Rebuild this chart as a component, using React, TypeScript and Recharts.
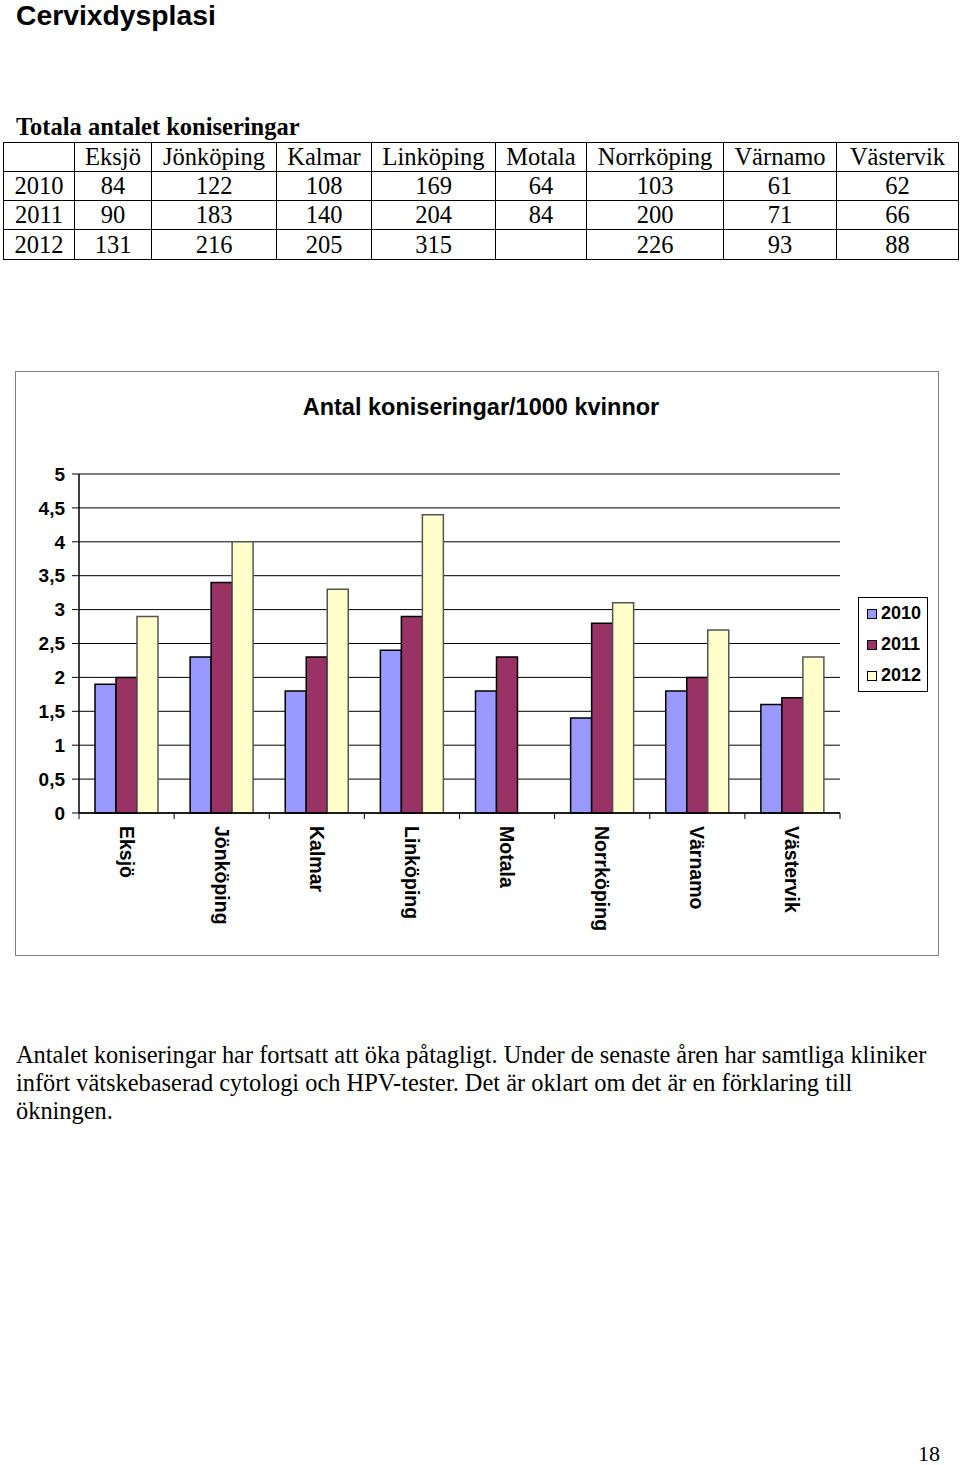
import React from 'react';
import { BarChart, Bar, XAxis, YAxis, CartesianGrid, Legend, ReferenceLine } from 'recharts';

// ---- Chart data (antal koniseringar / 1000 kvinnor) ----
const clinics = ['Eksjö', 'Jönköping', 'Kalmar', 'Linköping', 'Motala', 'Norrköping', 'Värnamo', 'Västervik'];
const rate2010 = [1.9, 2.3, 1.8, 2.4, 1.8, 1.4, 1.8, 1.6];
const rate2011 = [2.0, 3.4, 2.3, 2.9, 2.3, 2.8, 2.0, 1.7];
const rate2012: (number | null)[] = [2.9, 4.0, 3.3, 4.4, null, 3.1, 2.7, 2.3];
const yTicks = [0, 0.5, 1, 1.5, 2, 2.5, 3, 3.5, 4, 4.5, 5];

// ---- Table data (totala antalet koniseringar) ----
const tableYears = ['2010', '2011', '2012'];
const count2010: (number | null)[] = [84, 122, 108, 169, 64, 103, 61, 62];
const count2011: (number | null)[] = [90, 183, 140, 204, 84, 200, 71, 66];
const count2012: (number | null)[] = [131, 216, 205, 315, null, 226, 93, 88];
const tableRows = [count2010, count2011, count2012];

const series = [
  { key: 'y2010', name: '2010', fill: '#9999FF', stroke: '#000000' },
  { key: 'y2011', name: '2011', fill: '#993366', stroke: '#000000' },
  { key: 'y2012', name: '2012', fill: '#FFFFCC', stroke: '#555555' },
];

const chartData = clinics.map((c, i) => ({
  clinic: c,
  y2010: rate2010[i],
  y2011: rate2011[i],
  y2012: rate2012[i],
}));

const SANS = '"Liberation Sans", Arial, sans-serif';
const SERIF = '"Liberation Serif", "Times New Roman", serif';

const colWidths = [71, 77, 125, 95, 124, 91, 137, 113, 122];

const ClinicTick = (props: any) => {
  const { x, y, payload, index, visibleTicksCount } = props;
  const half = typeof payload?.offset === 'number' ? payload.offset : 0;
  const isLast = index === (visibleTicksCount ?? 0) - 1;
  return (
    <g>
      {half > 0 && <line x1={x - half} x2={x - half} y1={y} y2={y + 6} stroke="#000" strokeWidth={1} />}
      {half > 0 && isLast && <line x1={x + half} x2={x + half} y1={y} y2={y + 6} stroke="#000" strokeWidth={1} />}
      <text
        x={0}
        y={0}
        transform={`translate(${x},${y + 13}) rotate(90)`}
        textAnchor="start"
        dominantBaseline="central"
        fontFamily={SANS}
        fontWeight="bold"
        fontSize={19.5}
        fill="#000"
      >
        {payload.value}
      </text>
    </g>
  );
};

const LegendBox = () => (
  <div
    style={{
      width: 68,
      height: 93,
      border: '1px solid #000',
      background: '#fff',
      fontFamily: SANS,
      fontWeight: 'bold',
      fontSize: 18,
      color: '#000',
    }}
  >
    {series.map((s) => (
      <div key={s.key} style={{ height: 31, display: 'flex', alignItems: 'center' }}>
        <span
          style={{
            display: 'inline-block',
            width: 8,
            height: 8,
            marginLeft: 8,
            marginRight: 4,
            background: s.fill,
            border: '1px solid #000',
          }}
        />
        <span>{s.name}</span>
      </div>
    ))}
  </div>
);

const cellStyle: React.CSSProperties = {
  border: '1.5px solid #000',
  padding: 0,
  textAlign: 'center',
  lineHeight: '28px',
  whiteSpace: 'nowrap',
};

export default function App() {
  return (
    <div
      style={{
        position: 'absolute',
        left: 0,
        top: 0,
        width: 960,
        height: 1465,
        background: '#fff',
        overflow: 'hidden',
      }}
    >
      <div
        style={{
          position: 'absolute',
          left: 16,
          top: 1,
          fontFamily: SANS,
          fontWeight: 'bold',
          fontSize: 28.3,
          lineHeight: '28px',
          whiteSpace: 'nowrap',
        }}
      >
        Cervixdysplasi
      </div>

      <div
        style={{
          position: 'absolute',
          left: 16,
          top: 115,
          fontFamily: SERIF,
          fontWeight: 'bold',
          fontSize: 24.5,
          lineHeight: '24px',
          whiteSpace: 'nowrap',
        }}
      >
        Totala antalet koniseringar
      </div>

      <table
        style={{
          position: 'absolute',
          left: 3,
          top: 142,
          borderCollapse: 'collapse',
          tableLayout: 'fixed',
          width: 955,
          fontFamily: SERIF,
          fontSize: 24.5,
        }}
      >
        <colgroup>
          {colWidths.map((w, i) => (
            <col key={i} style={{ width: w }} />
          ))}
        </colgroup>
        <tbody>
          <tr style={{ height: 29 }}>
            <td style={cellStyle} />
            {clinics.map((c) => (
              <td key={c} style={cellStyle}>
                {c}
              </td>
            ))}
          </tr>
          {tableYears.map((yr, r) => (
            <tr key={yr} style={{ height: r === 2 ? 30 : 29 }}>
              <td style={cellStyle}>{yr}</td>
              {tableRows[r].map((v, i) => (
                <td key={i} style={cellStyle}>
                  {v === null ? '' : v}
                </td>
              ))}
            </tr>
          ))}
        </tbody>
      </table>

      <div
        style={{
          position: 'absolute',
          left: 15,
          top: 371,
          width: 924,
          height: 585,
          border: '1px solid #808080',
          boxSizing: 'border-box',
          background: '#fff',
        }}
      >
        <div
          style={{
            position: 'absolute',
            left: 0,
            top: 21,
            width: 930,
            textAlign: 'center',
            fontFamily: SANS,
            fontWeight: 'bold',
            fontSize: 23.5,
            lineHeight: '28px',
            color: '#000',
          }}
        >
          Antal koniseringar/1000 kvinnor
        </div>
        <div style={{ position: 'absolute', left: -1, top: -1 }}>
          <BarChart
            width={924}
            height={585}
            data={chartData}
            margin={{ top: 103, right: 99, bottom: 13, left: 0 }}
            barGap={0}
          >
            <CartesianGrid vertical={false} stroke="#000" strokeWidth={1} yAxisId="left" />
            <XAxis
              xAxisId="cat"
              dataKey="clinic"
              height={130}
              interval={0}
              tickSize={0}
              tickMargin={0}
              axisLine={{ stroke: '#000', strokeWidth: 1.5 }}
              tickLine={false}
              tick={<ClinicTick />}
            />
            <YAxis
              yAxisId="left"
              domain={[0, 5]}
              ticks={yTicks}
              interval={0}
              width={64}
              tickSize={7}
              tickMargin={7}
              axisLine={{ stroke: '#000', strokeWidth: 1.5 }}
              tickLine={{ stroke: '#000' }}
              tick={{ fontFamily: SANS, fontWeight: 'bold', fontSize: 19, fill: '#000' }}
              tickFormatter={(v: number) => String(v).replace('.', ',')}
            />
            <YAxis
              yAxisId="right"
              orientation="right"
              domain={[0, 5]}
              width={0}
              tick={false}
              tickLine={false}
              axisLine={{ stroke: '#808080' }}
            />
            <ReferenceLine yAxisId="left" xAxisId="cat" y={5} stroke="#808080" />
            {series.map((s) => (
              <Bar
                key={s.key}
                xAxisId="cat"
                yAxisId="left"
                dataKey={s.key}
                name={s.name}
                fill={s.fill}
                stroke={s.stroke}
                strokeWidth={1.5}
                barSize={21}
                isAnimationActive={false}
              />
            ))}
            <Legend
              layout="vertical"
              align="center"
              verticalAlign="middle"
              width={70}
              wrapperStyle={{ left: 843, top: 226, width: 70 }}
              content={() => <LegendBox />}
            />
          </BarChart>
        </div>
      </div>

      <div
        style={{
          position: 'absolute',
          left: 16,
          top: 1041,
          fontFamily: SERIF,
          fontSize: 24.4,
          lineHeight: '28px',
          whiteSpace: 'nowrap',
          color: '#000',
        }}
      >
        Antalet koniseringar har fortsatt att öka påtagligt. Under de senaste åren har samtliga kliniker
        <br />
        infört vätskebaserad cytologi och HPV-tester. Det är oklart om det är en förklaring till
        <br />
        ökningen.
      </div>

      <div
        style={{
          position: 'absolute',
          left: 918,
          top: 1442,
          fontFamily: SERIF,
          fontSize: 22,
          lineHeight: '24px',
          color: '#000',
        }}
      >
        18
      </div>
    </div>
  );
}
